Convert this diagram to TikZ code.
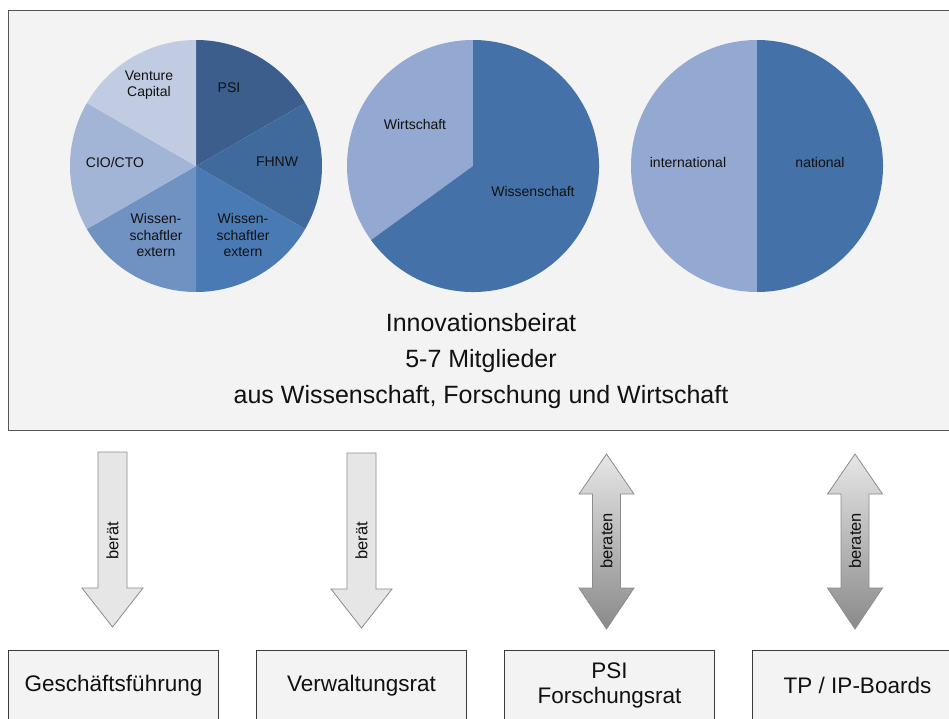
\documentclass[tikz,border=0pt]{standalone}
\usepackage{fontspec}
\setmainfont{Liberation Sans}
\definecolor{panelfill}{HTML}{F3F3F3}
\definecolor{panelline}{HTML}{555555}
\definecolor{boxline}{HTML}{3C3C3C}
\definecolor{pieA}{HTML}{3B5E8C}
\definecolor{pieB}{HTML}{416A9C}
\definecolor{pieC}{HTML}{4A7AB4}
\definecolor{pieD}{HTML}{7092C3}
\definecolor{pieE}{HTML}{A3B5D6}
\definecolor{pieF}{HTML}{C1CCE2}
\definecolor{pieDark}{HTML}{4472A8}
\definecolor{pieLight}{HTML}{93A9D1}
\definecolor{arrowfill}{HTML}{E6E6E6}
\definecolor{arrowline}{HTML}{8C8C8C}
\definecolor{arrowdark}{HTML}{8A8A8A}
\definecolor{ink}{HTML}{111111}
\begin{document}
\begin{tikzpicture}[x=1pt,y=1pt,
  panel/.style={draw=panelline,line width=1.3pt,fill=panelfill,anchor=north west,inner sep=0pt},
  orgbox/.style={draw=boxline,line width=1pt,fill=panelfill,anchor=north west,
    minimum width=210pt,minimum height=70pt,inner sep=0pt,align=center,
    text=ink,font=\fontsize{22.5}{25}\selectfont},
  pielabel/.style={align=center,text=ink,inner sep=0pt,font=\fontsize{14}{16.5}\selectfont},
  arrowlabel/.style={rotate=90,text=ink,inner sep=0pt,font=\fontsize{16.5}{18}\selectfont},
  headline/.style={align=center,text=ink,inner sep=0pt,font=\fontsize{25}{36}\selectfont},
  pics/blockdown/.style={code={
    \draw[draw=arrowline,fill=arrowfill,line width=0.8pt,line join=miter]
      (-14.5,0) -- (-14.5,-136) -- (-30.5,-136) -- (0,-175) -- (30.5,-136)
      -- (14.5,-136) -- (14.5,0) -- cycle;}},
  pics/blockboth/.style={code={
    \draw[draw=arrowline,top color=arrowfill,bottom color=arrowdark,line width=0.8pt,line join=miter]
      (0,0) -- (27.5,-40) -- (14,-40) -- (14,-134) -- (27.5,-134) -- (0,-175)
      -- (-27.5,-134) -- (-14,-134) -- (-14,-40) -- (-27.5,-40) -- cycle;}}
]
\useasboundingbox (0,0) rectangle (949,-718);
\fill[white] (0,0) rectangle (949,-718);

% Advisory board panel
\node[panel,minimum width=960pt,minimum height=420pt] (beirat) at (8,-10) {};

% Pie 1: composition of the board
\coordinate (p1) at (196,-166);
\fill[pieA] (p1) -- ++(90:126pt) arc[start angle=90,end angle=30,radius=126pt] -- cycle;
\fill[pieB] (p1) -- ++(30:126pt) arc[start angle=30,end angle=-30,radius=126pt] -- cycle;
\fill[pieC] (p1) -- ++(-30:126pt) arc[start angle=-30,end angle=-90,radius=126pt] -- cycle;
\fill[pieD] (p1) -- ++(-90:126pt) arc[start angle=-90,end angle=-150,radius=126pt] -- cycle;
\fill[pieE] (p1) -- ++(-150:126pt) arc[start angle=-150,end angle=-210,radius=126pt] -- cycle;
\fill[pieF] (p1) -- ++(150:126pt) arc[start angle=150,end angle=90,radius=126pt] -- cycle;
\node[pielabel] (lvc) at (149,-85) {Venture\\Capital};
\node[pielabel] (lpsi) at (229,-88) {PSI};
\node[pielabel] (lcio) at (115,-162) {CIO/CTO};
\node[pielabel] (lfhnw) at (277,-162) {FHNW};
\node[pielabel] (lwl) at (156,-235) {Wissen-\\schaftler\\extern};
\node[pielabel] (lwr) at (243,-235) {Wissen-\\schaftler\\extern};

% Pie 2: science versus industry
\coordinate (p2) at (473,-166);
\fill[pieLight] (p2) -- ++(90:126pt) arc[start angle=90,end angle=216,radius=126pt] -- cycle;
\fill[pieDark] (p2) -- ++(216:126pt) arc[start angle=216,end angle=450,radius=126pt] -- cycle;
\node[pielabel] (lwirt) at (415,-124) {Wirtschaft};
\node[pielabel] (lwiss) at (533,-191) {Wissenschaft};

% Pie 3: international versus national
\coordinate (p3) at (757,-166);
\fill[pieLight] (p3) -- ++(90:126pt) arc[start angle=90,end angle=270,radius=126pt] -- cycle;
\fill[pieDark] (p3) -- ++(-90:126pt) arc[start angle=-90,end angle=90,radius=126pt] -- cycle;
\node[pielabel] (lint) at (688,-162) {international};
\node[pielabel] (lnat) at (820,-162) {national};

% Panel heading
\node[headline] (title) at (481,-361) {Innovationsbeirat\\5-7 Mitglieder\\aus Wissenschaft, Forschung und Wirtschaft};

% Bodies advised by the board
\node[orgbox] (gf) at (8,-650) {Geschäftsführung};
\node[orgbox] (vr) at (256,-650) {Verwaltungsrat};
\node[orgbox] (fr) at (504,-650) {PSI\\Forschungsrat};
\node[orgbox] (tp) at (752,-650) {TP / IP-Boards};

% Block arrows
\pic (a1) at (112.5,-452) {blockdown};
\pic (a2) at (361.5,-453) {blockdown};
\pic (a3) at (606.5,-454) {blockboth};
\pic (a4) at (855,-454) {blockboth};
\node[arrowlabel] (t1) at (112.5,-541) {berät};
\node[arrowlabel] (t2) at (361.5,-541) {berät};
\node[arrowlabel] (t3) at (606.5,-541) {beraten};
\node[arrowlabel] (t4) at (855,-541) {beraten};
\end{tikzpicture}
\end{document}
